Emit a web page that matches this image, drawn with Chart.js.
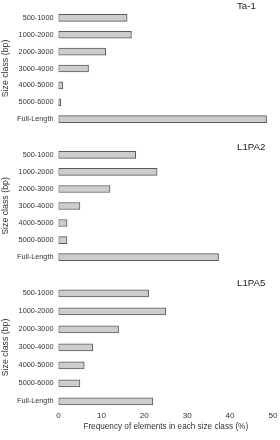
<!DOCTYPE html>
<html>
<head>
<meta charset="UTF-8">
<title>Size class frequency</title>
<script src="https://cdn.jsdelivr.net/npm/chart.js@4"></script>
<style>
  body { margin: 0; background: #fff; }
  .panel { position: absolute; left: 0; width: 280px; }
</style>
</head>
<body>
<div class="panel" style="top:0px;height:137px"><canvas id="c1"></canvas></div>
<div class="panel" style="top:137px;height:138px"><canvas id="c2"></canvas></div>
<div class="panel" style="top:275px;height:165px"><canvas id="c3"></canvas></div>
<script>
// categories (size classes) and frequencies (%) for each element family
const sizeClasses = ['500-1000', '1000-2000', '2000-3000', '3000-4000', '4000-5000', '5000-6000', 'Full-Length'];
const ta1 = [16, 17, 11, 7, 1, 0.5, 48.5];
const l1pa2 = [18, 23, 12, 5, 2, 2, 37.3];
const l1pa5 = [21, 25, 14, 8, 6, 5, 22];
const xTicks = [0, 10, 20, 30, 40, 50];
const panelNames = ['Ta-1', 'L1PA2', 'L1PA5'];

const FONT = 'Arial, "Liberation Sans", Helvetica, sans-serif';

// writes the element name in the top right corner of each panel
const panelLabel = {
    id: 'panelLabel',
    afterDraw(chart, args, opts) {
        const ctx = chart.ctx;
        ctx.save();
        ctx.font = '9.7px ' + FONT;
        ctx.fillStyle = '#222';
        ctx.textAlign = 'left';
        ctx.textBaseline = 'middle';
        ctx.fillText(opts.text, 237, opts.y);
        ctx.restore();
    }
};

function drawPanel(id, values, name, showX, pad, labelY) {
    const canvas = document.getElementById(id);
    return new Chart(canvas, {
        type: 'bar',
        data: {
            labels: sizeClasses,
            datasets: [{
                data: values,
                backgroundColor: '#cdcdcd',
                borderColor: '#5a5a5a',
                borderWidth: 1,
                borderSkipped: false,
                barThickness: 7
            }]
        },
        options: {
            indexAxis: 'y',
            responsive: true,
            maintainAspectRatio: false,
            animation: false,
            layout: { padding: pad },
            plugins: {
                legend: { display: false },
                tooltip: { enabled: false },
                panelLabel: { text: name, y: labelY }
            },
            scales: {
                y: {
                    grid: { display: false, drawTicks: false },
                    border: { display: false },
                    ticks: { color: '#333', font: { family: FONT, size: 7.3 }, padding: 5 },
                    title: {
                        display: true,
                        text: 'Size class (bp)',
                        color: '#333',
                        font: { family: FONT, size: 8.8 },
                        padding: { top: 0, bottom: 0 }
                    },
                    afterFit: (scale) => { scale.width = 58.5; }
                },
                x: {
                    display: showX,
                    min: 0,
                    max: 50,
                    afterBuildTicks: (scale) => { scale.ticks = xTicks.map(v => ({ value: v })); },
                    grid: { display: false, drawTicks: false },
                    border: { display: false },
                    ticks: { color: '#333', font: { family: FONT, size: 8.1 }, padding: 0 },
                    title: {
                        display: true,
                        text: 'Frequency of elements in each size class (%)',
                        color: '#333',
                        font: { family: FONT, size: 8.2 },
                        padding: { top: 2, bottom: 0 }
                    }
                }
            }
        },
        plugins: [panelLabel]
    });
}

drawPanel('c1', ta1, panelNames[0], false, { top: 2.75, bottom: 4.75, right: 7 }, 6);
drawPanel('c2', l1pa2, panelNames[1], false, { top: 5.8, bottom: 3.1, right: 7 }, 10);
drawPanel('c3', l1pa5, panelNames[2], true, { top: 3.6, bottom: 8, right: 7 }, 8);
</script>
</body>
</html>
